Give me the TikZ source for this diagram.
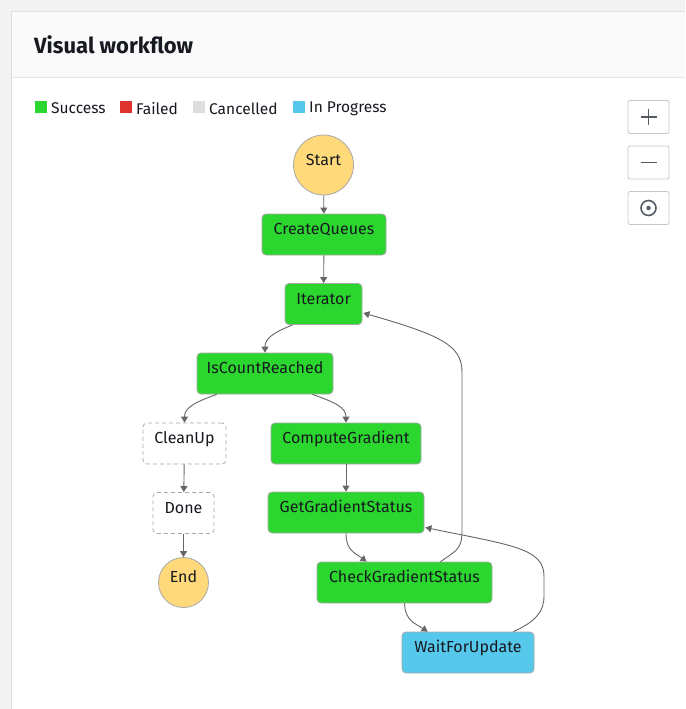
\documentclass[tikz,border=0pt]{standalone}
\usepackage{fontspec}
\setmainfont{Fira Sans}
\usetikzlibrary{arrows.meta,calc}
\definecolor{okgreen}{HTML}{2BD62E}
\definecolor{failred}{HTML}{DE322F}
\definecolor{cancgrey}{HTML}{DEDEDE}
\definecolor{progblue}{HTML}{56C8EB}
\definecolor{termyel}{HTML}{FFD97A}
\definecolor{edgecol}{HTML}{666666}
\definecolor{nodeborder}{HTML}{A8A8A8}
\definecolor{titlecol}{HTML}{16191F}
\definecolor{btncol}{HTML}{545B64}
\tikzset{
  x=1pt, y=-1pt,
  state/.style={draw=nodeborder, line width=0.8pt, rounded corners=4pt, minimum height=41pt,
    inner xsep=0pt, inner ysep=0pt, text height=8pt, text depth=8pt, font=\fontsize{16}{18}\selectfont, text=titlecol},
  okstate/.style={state, fill=okgreen},
  runstate/.style={state, fill=progblue},
  skipstate/.style={state, fill=white, dash pattern=on 4pt off 3pt},
  term/.style={circle, draw=nodeborder, line width=0.8pt, fill=termyel, inner sep=0pt,
    text height=8pt, text depth=8pt, font=\fontsize{16}{18}\selectfont, text=titlecol},
  flow/.style={draw=edgecol, line width=0.9pt, -{Triangle[length=6pt,width=7pt]}},
  legsq/.style={minimum size=12pt, inner sep=0pt},
  legtxt/.style={anchor=west, inner sep=0pt, font=\fontsize{15.5}{17}\selectfont, text=titlecol},
  btn/.style={draw=black!22, fill=white, rounded corners=2pt, minimum width=41pt, minimum height=33pt, line width=0.8pt},
}
\begin{document}
\begin{tikzpicture}
\useasboundingbox (0,0) rectangle (685,709);
% page background and panel
\fill[black!5] (0,0) rectangle (685,709);
\fill[white] (11.5,11.5) rectangle (685,709);
\fill[black!2] (11.5,11.5) rectangle (685,77.5);
\draw[black!12, line width=1pt] (11.5,709) -- (11.5,11.5) -- (685,11.5);
\draw[black!10, line width=1pt] (11.5,77.5) -- (685,77.5);
\node[anchor=west, inner sep=0pt, font=\bfseries\fontsize{22}{24}\selectfont, text=titlecol] (title) at (34,45) {Visual workflow};

% legend
\node[legsq, fill=okgreen] (lg1) at (41,107) {};
\node[legtxt] (lt1) at (51,108.5) {Success};
\node[legsq, fill=failred] (lg2) at (126,107) {};
\node[legtxt] (lt2) at (136,108.5) {Failed};
\node[legsq, fill=cancgrey] (lg3) at (199,107) {};
\node[legtxt] (lt3) at (209,108.5) {Cancelled};
\node[legsq, fill=progblue] (lg4) at (299,107) {};
\node[legtxt] (lt4) at (309,108.5) {In Progress};

% zoom buttons
\node[btn] (bplus) at (648.5,117) {};
\draw[btncol, line width=1.8pt] ($(bplus)+(-8,0)$) -- ($(bplus)+(8,0)$) ($(bplus)+(0,-8)$) -- ($(bplus)+(0,8)$);
\node[btn] (bminus) at (648.5,162.5) {};
\draw[btncol, line width=1.8pt] ($(bminus)+(-8,0)$) -- ($(bminus)+(8,0)$);
\node[btn] (bcenter) at (648.5,208) {};
\draw[btncol, line width=1.6pt] (bcenter) circle[radius=7.5pt];
\fill[btncol] (bcenter) circle[radius=2.2pt];

% states
\node[term, minimum size=60pt] (start) at (323.5,165) {Start};
\node[okstate, minimum width=124pt] (cq) at (324,234.5) {CreateQueues};
\node[okstate, minimum width=77pt] (it) at (323.5,304) {Iterator};
\node[okstate, minimum width=136pt] (icr) at (265,373.5) {IsCountReached};
\node[skipstate, minimum width=83pt] (cu) at (184.5,443.5) {CleanUp};
\node[okstate, minimum width=150pt] (cg) at (346,443.5) {ComputeGradient};
\node[skipstate, minimum width=61pt] (done) at (183.5,513) {Done};
\node[okstate, minimum width=156pt] (ggs) at (346,512.5) {GetGradientStatus};
\node[term, minimum size=50pt] (end) at (183.5,582.5) {End};
\node[okstate, minimum width=175pt] (cgs) at (404.5,582.5) {CheckGradientStatus};
\node[runstate, minimum width=132pt] (wfu) at (468,652.5) {WaitForUpdate};

% connectors
\draw[flow] (start) -- (cq);
\draw[flow] (cq) -- (it);
\draw[flow] ($(it.south west)+(8,0)$) .. controls ($(it.south west)+(-12,8)$) and ($(icr.north)+(0,-14)$) .. (icr.north);
\draw[flow] ($(icr.south west)+(20,0)$) .. controls ($(icr.south west)+(-2,8)$) and ($(cu.north)+(0,-15)$) .. (cu.north);
\draw[flow] ($(icr.south east)+(-21,0)$) .. controls ($(icr.south east)+(2,8)$) and ($(cg.north)+(0,-15)$) .. (cg.north);
\draw[flow] (cu) -- (done);
\draw[flow] (done) -- (end);
\draw[flow] (cg) -- (ggs);
\draw[flow] (ggs.south) .. controls ($(ggs.south)+(0,17)$) and ($(cgs.north west)+(38,-9)$) .. ($(cgs.north west)+(50,0)$);
\draw[flow] ($(cgs.south west)+(88,0)$) .. controls ($(cgs.south west)+(88,17)$) and ($(wfu.north west)+(14,-8)$) .. ($(wfu.north west)+(26,0)$);
\draw[flow] ($(cgs.north east)+(-52,0)$) .. controls ($(cgs.north east)+(-34,-12)$) and (462,548) .. (462,530)
  -- (462,372) .. controls (462,345) and (440,335) .. ($(it.east)+(1,9)$);
\draw[flow] ($(wfu.north east)+(-21,0)$) .. controls ($(wfu.north east)+(1,-10)$) and (544,612) .. (544,596)
  -- (544,576) .. controls (544,548) and (510,545) .. ($(ggs.east)+(1,15)$);
\end{tikzpicture}
\end{document}
